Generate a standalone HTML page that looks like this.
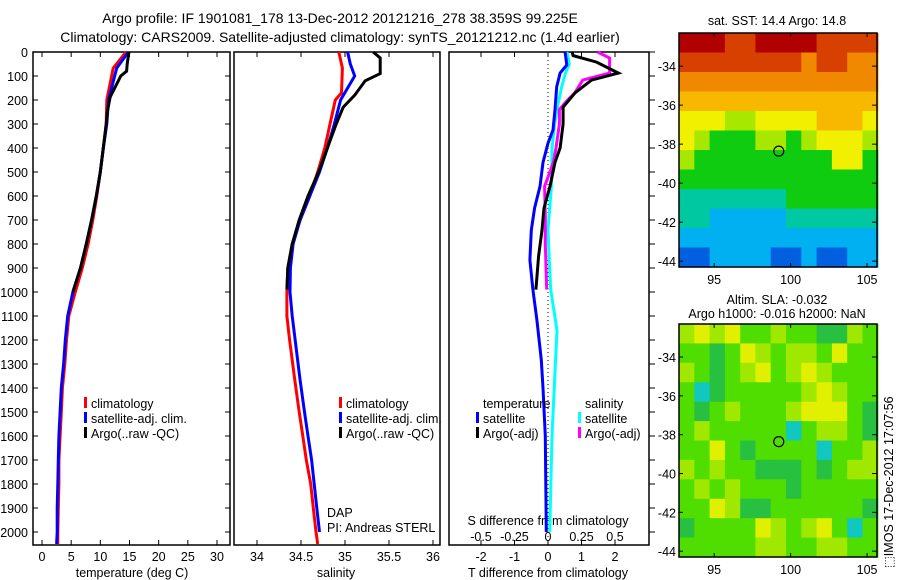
<!DOCTYPE html>
<html><head><meta charset="utf-8"><style>
html,body{margin:0;padding:0;background:#fff;}
svg{display:block;font-family:"Liberation Sans",sans-serif;}
</style></head><body>
<svg id="fig" width="900" height="580" viewBox="0 0 900 580" xmlns="http://www.w3.org/2000/svg">
<text x="340" y="23" font-size="14" text-anchor="middle">Argo profile: IF 1901081_178 13-Dec-2012 20121216_278 38.359S 99.225E</text>
<text x="340" y="42" font-size="14" text-anchor="middle">Climatology: CARS2009. Satellite-adjusted climatology: synTS_20121212.nc (1.4d earlier)</text>
<g id="plots"></g>
<text x="777" y="25" font-size="12.5" text-anchor="middle">sat. SST: 14.4  Argo: 14.8</text>
<text x="777" y="304" font-size="12.5" text-anchor="middle">Altim. SLA: -0.032</text>
<text x="777" y="318" font-size="12.5" text-anchor="middle">Argo h1000: -0.016 h2000: NaN</text>
<text transform="translate(893,568) rotate(-90)" font-size="12.5">⬚IMOS 17-Dec-2012 17:07:56</text>
</svg>
<script>
// ---- data ----
const depthTicks=[0,100,200,300,400,500,600,700,800,900,1000,1100,1200,1300,1400,1500,1600,1700,1800,1900,2000];
const tempTicks=[0,5,10,15,20,25,30];
const salTicks=[34,34.5,35,35.5,36];
const tdiffTicks=[-2,-1,0,1,2];
const sdiffTicks=[-0.5,-0.25,0,0.25,0.5];
const climTDepth=[0,67,200,300,400,500,600,700,800,900,1000,1100,1200,1300,1400,1500,1600,1700,1800,1900,2000,2050];
const climT=[14.4,12.2,11.1,11,10.5,10,9.4,8.7,7.9,6.9,5.7,4.6,4.2,3.9,3.5,3.3,3.1,2.9,2.9,2.8,2.7,2.7];
const satT=[14.8,12.8,11.4,11.1,10.5,10,9.3,8.5,7.6,6.6,5.3,4.4,4.0,3.7,3.3,3.1,2.9,2.8,2.7,2.6,2.6,2.5];
const argoTDepth=[0,50,80,100,187,250,300,400,500,600,700,800,900,1000];
const argoT=[14.9,14.6,14.5,13.5,11.7,11.2,11,10.5,10,9.3,8.5,7.6,6.6,5.3];
const climSDepth=[0,67,170,200,300,400,500,600,700,800,900,1000,1100,1200,1367,1500,1600,1700,1800,1900,2000,2050];
const climS=[34.93,34.97,34.96,34.89,34.83,34.77,34.69,34.6,34.49,34.4,34.35,34.34,34.34,34.37,34.43,34.48,34.52,34.56,34.61,34.64,34.67,34.69];
const satSDepth=[0,50,100,150,200,300,400,500,600,700,800,900,1000,1100,1367,1500,1600,1700,1800,1900,2000];
const satS=[35.03,35.06,35.11,35.03,34.95,34.88,34.8,34.71,34.6,34.49,34.41,34.38,34.375,34.4,34.49,34.54,34.58,34.62,34.65,34.68,34.71];
const argoSDepth=[0,25,90,120,180,230,300,400,500,600,700,800,900,990];
const argoS=[35.32,35.4,35.4,35.23,35.11,34.98,34.9,34.8,34.7,34.58,34.48,34.4,34.35,34.34];
const satTdDepth=[0,54,88,145,240,325,380,460,560,650,742,867,990,1117,1283,1400,1600,2000];
const satTd=[0.51,0.56,0.36,0.26,0.21,0.15,0,-0.15,-0.24,-0.4,-0.5,-0.54,-0.45,-0.33,-0.2,-0.15,-0.08,-0.05];
const argoTdDepth=[0,15,42,88,117,170,230,300,400,460,560,650,742,850,990];
const argoTd=[0.72,0.75,1.45,2.1,1.3,0.81,0.45,0.45,0.36,0.21,0.06,-0.12,-0.18,-0.28,-0.36];
const satSdDepth=[0,50,88,150,230,300,400,560,742,867,990,1160,1360,1600,2000];
const satSd=[0.14,0.16,0.13,0.1,0.07,0.05,0.03,0.025,0.0,0.01,0.02,0.067,0.05,0.03,0.013];
const argoSdDepth=[0,25,88,117,170,210,240,300,400,460,560,680,800,990];
const argoSd=[0.37,0.46,0.46,0.26,0.2,0.13,0.085,0.085,0.06,0.04,-0.025,-0.02,-0.02,-0.01];
const mapLonTicks=[95,100,105];
const mapLatTicks=[-34,-36,-38,-40,-42,-44];
const floatLon=99.225, floatLat=-38.359;
const sstGrid=[
[9,9,9,8,8,9,9,9,9,8,8,8,8],
[8,8,8,8,8,8,8,8,7,8,8,7,7],
[7,7,7,7,7,7,7,7,7,7,7,7,7],
[6,6,6,6,6,6,6,6,6,6,6,6,6],
[5,5,5,4,4,5,5,5,5,6,6,6,5],
[5,4,3,3,3,4,4,3,4,5,5,5,4],
[4,3,3,3,3,3,3,3,3,3,5,5,3],
[3,3,3,3,3,3,3,3,3,3,3,3,3],
[2,2,2,2,2,2,2,3,3,3,3,3,3],
[2,2,1,1,1,1,1,2,2,2,2,2,2],
[1,1,1,1,1,1,1,1,1,1,1,1,1],
[0,0,1,1,1,1,0,0,1,0,0,1,1]];
const slaGrid=[
[3,4,3,4,2,2,3,2,2,1,1,3,2],
[2,2,1,2,4,3,2,3,3,2,4,2,2],
[3,2,1,2,3,4,2,3,4,3,2,2,2],
[2,0,1,2,2,2,2,2,3,4,3,2,2],
[2,1,2,3,2,2,2,3,4,4,4,2,1],
[2,3,2,2,2,2,2,0,2,3,3,2,1],
[2,2,4,2,1,2,2,2,2,0,2,2,3],
[3,2,3,2,2,1,1,1,2,1,2,3,3],
[2,3,2,3,2,2,2,1,2,2,2,2,2],
[2,2,4,3,1,1,2,2,2,2,2,2,1],
[1,2,2,2,2,4,3,2,3,4,2,0,2],
[2,2,2,2,2,3,3,2,2,3,3,2,2]];
const sstPalette=['#0060e0','#00b0f0','#00c8a0','#10cc10','#a8e800','#f0f000','#f8b800','#f08800','#d84000','#b00000'];
const slaPalette=['#10c8c0','#28c040','#50dd00','#a0e800','#e0f000'];

// ---- drawing ----
const NS='http://www.w3.org/2000/svg';
const root=document.getElementById('plots');
function mk(tag,attrs,parent){const e=document.createElementNS(NS,tag);for(const k in attrs)e.setAttribute(k,attrs[k]);(parent||root).appendChild(e);return e;}
function lin(d0,d1,r0,r1){return v=>r0+(v-d0)*(r1-r0)/(d1-d0);}
const yTop=52,yBot=545;
const yD=lin(0,2000,52,532);
const panels=[{x0:33,x1:230,name:'temperature-panel'},{x0:234,x1:440,name:'salinity-panel'},{x0:449,x1:649,name:'difference-panel'}];
const xT=lin(0,30,42,217), xS=lin(34,36,257,433), xTd=lin(0,2,548,615), xSd=lin(0,0.5,548,615);
const FS=12.5;

function line(depths,vals,sx,color,name){
  let d='';
  for(let i=0;i<vals.length;i++){d+=(i?'L':'M')+sx(vals[i]).toFixed(1)+','+yD(depths[i]).toFixed(1);}
  const p=mk('path',{d:d,fill:'none',stroke:color,'stroke-width':3,'stroke-linejoin':'miter'});
  
  
}
function txt(x,y,s,size,anchor,name){const t=mk('text',{x:x,y:y,'font-size':size,'text-anchor':anchor||'start'});t.textContent=s;
  
  return t;}

panels.forEach((p,i)=>{
  const r=mk('rect',{x:p.x0,y:yTop,width:p.x1-p.x0,height:yBot-yTop,fill:'none',stroke:'#000','stroke-width':1.5});
  
  
});
depthTicks.forEach(d=>{
  const y=yD(d);
  txt(28,y+5,String(d),FS,'end','depth-tick-label');
  mk('line',{x1:33,x2:38,y1:y,y2:y,stroke:'#000'});
  mk('line',{x1:225,x2:230,y1:y,y2:y,stroke:'#000'});
  mk('line',{x1:649,x2:655,y1:y,y2:y,stroke:'#000'});
});
function xticks(ticks,sx,labelY,name){ticks.forEach(t=>{const x=sx(t);
  mk('line',{x1:x,x2:x,y1:yTop,y2:yTop+5,stroke:'#000'});
  mk('line',{x1:x,x2:x,y1:yBot,y2:yBot-5,stroke:'#000'});
  txt(x,labelY,String(t),FS,'middle',name);});}
xticks(tempTicks,xT,561,'temperature-tick-label');
xticks(salTicks,xS,561,'salinity-tick-label');
xticks(tdiffTicks,xTd,561,'t-diff-tick-label');
sdiffTicks.forEach(t=>txt(xSd(t),541,String(t),FS,'middle','s-diff-tick-label'));
txt(132,577,'temperature (deg C)',FS,'middle','x-axis-title-temperature');
txt(336,577,'salinity',FS,'middle','x-axis-title-salinity');
txt(548,577,'T difference from climatology',FS,'middle','x-axis-title-t-diff');
txt(548,525,'S difference from climatology',FS,'middle','s-diff-axis-title');
const z=mk('line',{x1:548,x2:548,y1:yTop,y2:yBot,stroke:'#000','stroke-dasharray':'1,3'});


line(climTDepth,climT,xT,'#ff0000','temp-climatology-line');
line(climTDepth,satT,xT,'#0000ff','temp-satellite-line');
line(argoTDepth,argoT,xT,'#000','temp-argo-line');
line(climSDepth,climS,xS,'#ff0000','sal-climatology-line');
line(satSDepth,satS,xS,'#0000ff','sal-satellite-line');
line(argoSDepth,argoS,xS,'#000','sal-argo-line');
line(satSdDepth,satSd,xSd,'#00ffff','sdiff-satellite-line');
line(argoSdDepth,argoSd,xSd,'#ff00ff','sdiff-argo-line');
line(satTdDepth,satTd,xTd,'#0000ff','tdiff-satellite-line');
line(argoTdDepth,argoTd,xTd,'#000','tdiff-argo-line');
function leg(x,y,color,s,name){mk('rect',{x:x,y:y-6,width:3,height:11,fill:color});txt(x+7,y+5,s,FS,'start',name);}
[[84,'climatology','#ff0000'],[84,'satellite-adj. clim.','#0000ff'],[84,'Argo(..raw -QC)','#000']].forEach((e,i)=>{
  leg(84,403+i*15,e[2],e[1],'legend-entry-temp');leg(339,403+i*15,e[2],e[1],'legend-entry-sal');});
txt(483,408,'temperature',FS,'start','legend-header-temperature');
txt(585,408,'salinity',FS,'start','legend-header-salinity');
leg(476,418,'#0000ff','satellite','legend-entry-t-sat');
leg(476,433,'#000','Argo(-adj)','legend-entry-t-argo');
leg(578,418,'#00ffff','satellite','legend-entry-s-sat');
leg(578,433,'#ff00ff','Argo(-adj)','legend-entry-s-argo');
txt(327,517,'DAP',FS,'start','dap-label');
txt(327,532,'PI: Andreas STERL',FS,'start','pi-label');

const mx=lin(92.7,105.65,679,877);
function drawMap(grid,pal,top,bot,name){
  const my=lin(-32.3,-44.3,top,bot);
  const g=mk('g',{});
  
  
  grid.forEach((row,ri)=>row.forEach((v,ci)=>{
    const lon=92.7+ci, lat=-32.3-ri;
    const c=mk('rect',{x:mx(lon).toFixed(1),y:my(lat).toFixed(1),width:(mx(lon+1)-mx(lon)+0.6).toFixed(1),height:(my(lat-1)-my(lat)+0.6).toFixed(1),fill:pal[v]},g);
    
    
  }));
  mk('rect',{x:679,y:top,width:198,height:bot-top,fill:'none',stroke:'#000','stroke-width':1.5});
  mapLonTicks.forEach(l=>{const x=mx(l);mk('line',{x1:x,x2:x,y1:top,y2:top+4,stroke:'#000'});mk('line',{x1:x,x2:x,y1:bot,y2:bot-4,stroke:'#000'});
    txt(x,bot+17,String(l),FS,'middle','map-lon-tick-label');});
  mapLatTicks.forEach(l=>{const y=my(l);mk('line',{x1:877,x2:872,y1:y,y2:y,stroke:'#000'});mk('line',{x1:679,x2:683,y1:y,y2:y,stroke:'#000'});
    txt(676,y+5,String(l),FS,'end','map-lat-tick-label');});
  const m=mk('circle',{cx:mx(floatLon),cy:my(floatLat),r:5,fill:'none',stroke:'#000','stroke-width':1.2});
  
  
}
drawMap(sstGrid,sstPalette,33,267,'sst-map');
drawMap(slaGrid,slaPalette,324,557,'sla-map');
</script>
</body></html>
